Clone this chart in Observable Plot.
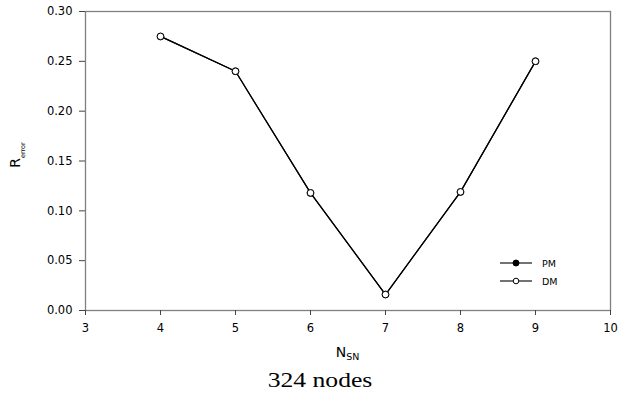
<!DOCTYPE html>
<html>
<head>
<meta charset="utf-8">
<script src="https://cdn.jsdelivr.net/npm/d3@7"></script>
<script src="https://cdn.jsdelivr.net/npm/@observablehq/plot@0.6"></script>
<style>
  html, body { margin: 0; padding: 0; background: #fff; }
  #wrap { position: relative; width: 620px; height: 402px; font-family: "DejaVu Sans", sans-serif; }
  #caption { position: absolute; left: 0; top: 368px; width: 640px; text-align: center; font-family: "Liberation Serif", "Times New Roman", serif; font-size: 21px; line-height: 24px; color: #000; transform: scaleX(1.22); transform-origin: 320px 0; }
  #legend { position: absolute; left: 500px; top: 254px; font-size: 9.5px; color: #000; font-family: "DejaVu Sans", sans-serif; }
  #legend .row { height: 18px; display: flex; align-items: center; }
  #legend svg { display: block; margin-right: 10px; }
</style>
</head>
<body>
<div id="wrap">
  <div id="chart"></div>
  <div id="caption">324 nodes</div>
  <div id="legend"></div>
</div>
<script>
const nsn = [4, 5, 6, 7, 8, 9];
const pmValues = [0.275, 0.240, 0.118, 0.016, 0.119, 0.250];
const dmValues = [0.275, 0.240, 0.118, 0.016, 0.119, 0.250];
const xTicks = [3, 4, 5, 6, 7, 8, 9, 10];
const yTicks = [0, 0.05, 0.10, 0.15, 0.20, 0.25, 0.30];
const seriesNames = ["PM", "DM"];

const pm = nsn.map((x, i) => ({x, y: pmValues[i]}));
const dm = nsn.map((x, i) => ({x, y: dmValues[i]}));

const W = 620, H = 366, ML = 85, MR = 10, MT = 11, MB = 56;

const plot = Plot.plot({
  width: W, height: H,
  marginLeft: ML, marginRight: MR, marginTop: MT, marginBottom: MB,
  style: { fontFamily: "DejaVu Sans, sans-serif", fontSize: "11.5px", color: "#000", background: "#fff", overflow: "visible" },
  x: { domain: [3, 10], label: null },
  y: { domain: [0, 0.30], label: null },
  marks: [
    Plot.frame({ stroke: "#808080", strokeWidth: 1.3 }),
    Plot.axisX({ ticks: xTicks, tickSize: 5, tickPadding: 8, stroke: "#444", tickFormat: d => String(d), label: null }),
    Plot.axisY({ ticks: yTicks, tickSize: 6, tickPadding: 7, stroke: "#444", tickFormat: d3.format(".2f"), label: null }),
    Plot.line(pm, { x: "x", y: "y", stroke: "#000", strokeWidth: 1.2 }),
    Plot.dot(pm, { x: "x", y: "y", r: 3, fill: "#000", stroke: "#000" }),
    Plot.line(dm, { x: "x", y: "y", stroke: "#000", strokeWidth: 1.2 }),
    Plot.dot(dm, { x: "x", y: "y", r: 3.3, fill: "#fff", stroke: "#000", strokeWidth: 1 })
  ]
});
document.getElementById("chart").appendChild(plot);

// Axis titles with subscripts
const svg = d3.select(plot);
const xl = svg.append("text")
  .attr("x", ML + (W - ML - MR) / 2)
  .attr("y", 357)
  .attr("text-anchor", "middle")
  .attr("font-family", "DejaVu Sans, sans-serif")
  .attr("font-size", 14)
  .attr("fill", "#000");
xl.append("tspan").text("N");
xl.append("tspan").attr("font-size", 9.5).attr("dy", 2.5).text("SN");

const yl = svg.append("text")
  .attr("transform", `translate(19.5,155) rotate(-90)`)
  .attr("text-anchor", "middle")
  .attr("font-family", "DejaVu Sans, sans-serif")
  .attr("font-size", 14)
  .attr("fill", "#000");
yl.append("tspan").text("R");
yl.append("tspan").attr("font-size", 6.5).attr("dy", 5).text("error");

// Legend
const legend = d3.select("#legend");
seriesNames.forEach((name, i) => {
  const row = legend.append("div").attr("class", "row");
  const s = row.append("svg").attr("width", 32).attr("height", 10);
  s.append("line").attr("x1", 0).attr("x2", 32).attr("y1", 5).attr("y2", 5).attr("stroke", "#000").attr("stroke-width", 1.1);
  s.append("circle").attr("cx", 16).attr("cy", 5).attr("r", i === 0 ? 3 : 2.8)
    .attr("fill", i === 0 ? "#000" : "#fff").attr("stroke", "#000");
  row.append("span").text(name);
});
</script>
</body>
</html>
